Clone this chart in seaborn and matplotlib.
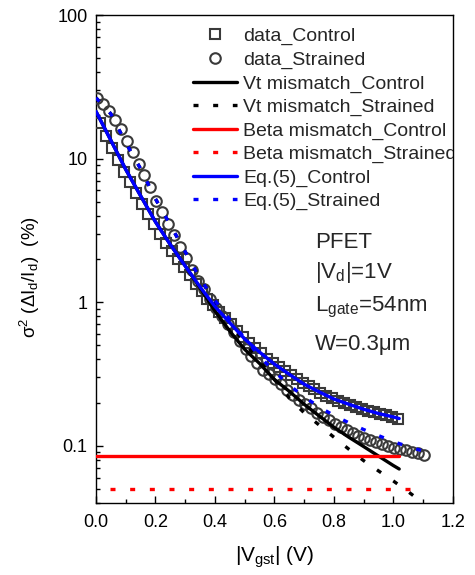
import numpy as np
import pandas as pd
import matplotlib
matplotlib.use("Agg")
import matplotlib.pyplot as plt
import seaborn as sns
from matplotlib.ticker import LogLocator, MultipleLocator, FixedLocator, FixedFormatter, NullFormatter

# ---------------- data ----------------
x_ctrl = [0.015, 0.035, 0.055, 0.075, 0.095, 0.115, 0.135, 0.155, 0.175, 0.195,
          0.215, 0.235, 0.255, 0.275, 0.295, 0.315, 0.335, 0.355, 0.375, 0.395,
          0.415, 0.435, 0.455, 0.475, 0.495, 0.515, 0.535, 0.555, 0.575, 0.595,
          0.615, 0.635, 0.655, 0.675, 0.695, 0.715, 0.735, 0.755, 0.775, 0.795,
          0.815, 0.835, 0.855, 0.875, 0.895, 0.915, 0.935, 0.955, 0.975, 0.995, 1.015]
data_ctrl = [17.6, 14.3, 11.8, 9.8, 8.1, 6.9, 5.75, 4.85, 4.1, 3.5,
             3.0, 2.6, 2.27, 2.0, 1.76, 1.54, 1.35, 1.2, 1.06, 0.95,
             0.86, 0.78, 0.70, 0.635, 0.57, 0.52, 0.48, 0.44, 0.405, 0.377,
             0.352, 0.33, 0.31, 0.292, 0.275, 0.26, 0.247, 0.235, 0.224, 0.214,
             0.206, 0.199, 0.192, 0.186, 0.181, 0.176, 0.171, 0.167, 0.163, 0.159, 0.155]

x_str = [0.003, 0.023, 0.043, 0.063, 0.083, 0.103, 0.123, 0.143, 0.163, 0.183,
         0.203, 0.223, 0.243, 0.263, 0.283, 0.303, 0.323, 0.343, 0.363, 0.383,
         0.403, 0.423, 0.443, 0.463, 0.483, 0.503, 0.523, 0.543, 0.563, 0.583,
         0.603, 0.623, 0.643, 0.663, 0.683, 0.703, 0.723, 0.743, 0.763, 0.783,
         0.803, 0.823, 0.843, 0.863, 0.883, 0.903, 0.923, 0.943, 0.963, 0.983,
         1.003, 1.023, 1.043, 1.063, 1.083, 1.103]
data_str = [26.4, 24.1, 21.5, 18.7, 16.1, 13.3, 11.2, 9.2, 7.7, 6.3,
            5.1, 4.24, 3.52, 2.93, 2.44, 2.02, 1.68, 1.41, 1.23, 1.05,
            0.91, 0.80, 0.71, 0.62, 0.54, 0.475, 0.42, 0.375, 0.34, 0.315,
            0.29, 0.268, 0.245, 0.226, 0.21, 0.195, 0.182, 0.17, 0.16, 0.151,
            0.143, 0.136, 0.129, 0.123, 0.118, 0.113, 0.109, 0.106, 0.103, 0.100,
            0.097, 0.095, 0.093, 0.091, 0.089, 0.087]

x_fit_ctrl = [0.0, 0.05, 0.1, 0.15, 0.2, 0.25, 0.3, 0.35, 0.4, 0.45, 0.5, 0.55,
              0.6, 0.65, 0.7, 0.75, 0.8, 0.85, 0.9, 0.95, 1.0, 1.02]
eq5_ctrl = [21.3, 13.4, 8.41, 5.51, 3.63, 2.52, 1.79, 1.28, 0.935, 0.72, 0.555, 0.45,
            0.371, 0.315, 0.269, 0.238, 0.212, 0.195, 0.180, 0.168, 0.159, 0.155]
vt_ctrl = [21.3, 13.4, 8.41, 5.51, 3.63, 2.52, 1.79, 1.26, 0.87, 0.63, 0.47, 0.375,
           0.29, 0.24, 0.195, 0.162, 0.135, 0.115, 0.099, 0.085, 0.073, 0.069]

x_fit_str = [0.0, 0.05, 0.1, 0.15, 0.2, 0.25, 0.3, 0.35, 0.4, 0.45, 0.5, 0.55,
             0.6, 0.65, 0.7, 0.75, 0.8, 0.85, 0.9, 0.95, 1.0, 1.05, 1.1]
eq5_str = [26.5, 20.5, 12.9, 8.5, 5.25, 3.45, 2.25, 1.46, 1.03, 0.76, 0.56, 0.42,
           0.33, 0.265, 0.22, 0.187, 0.163, 0.145, 0.13, 0.118, 0.107, 0.099, 0.092]
vt_str = [26.5, 20.5, 12.9, 8.5, 5.25, 3.45, 2.25, 1.46, 1.0, 0.72, 0.52, 0.39,
          0.29, 0.215, 0.17, 0.14, 0.115, 0.095, 0.079, 0.067, 0.057, 0.048, 0.040]

x_beta_ctrl = [0.0, 1.02]
beta_ctrl = [0.085, 0.085]
x_beta_str = [0.047, 1.1]
beta_str = [0.05, 0.05]

xticks = [0.0, 0.2, 0.4, 0.6, 0.8, 1.0, 1.2]
xticklabels = ["0.0", "0.2", "0.4", "0.6", "0.8", "1.0", "1.2"]
yticks = [0.1, 1, 10, 100]
yticklabels = ["0.1", "1", "10", "100"]

# ---------------- style ----------------
sns.set_style("ticks")
plt.rcParams["font.family"] = ["Liberation Sans", "DejaVu Sans"]
plt.rcParams["mathtext.default"] = "regular"
plt.rcParams["mathtext.fontset"] = "custom"
plt.rcParams["mathtext.rm"] = "Liberation Sans"
plt.rcParams["mathtext.it"] = "Liberation Sans"

fig = plt.figure(figsize=(4.75, 5.75), dpi=100)
ax = fig.add_axes([96 / 475, 1 - 503 / 575, 356.7 / 475, 488 / 575])

LW = 2.4
DOT = (0, (1.5, 4.4))
mcol = "#3a3a3a"

sns.lineplot(x=x_ctrl, y=data_ctrl, ax=ax, color=mcol, marker="s", linestyle="",
             mfc="none", mec=mcol, ms=7.0, mew=1.5, label="data_Control", zorder=3)
sns.lineplot(x=x_str, y=data_str, ax=ax, color=mcol, marker="o", linestyle="",
             mfc="none", mec=mcol, ms=7.6, mew=1.5, label="data_Strained", zorder=3)
sns.lineplot(x=x_fit_ctrl, y=vt_ctrl, ax=ax, color="black", lw=LW,
             label="Vt mismatch_Control", zorder=4)
sns.lineplot(x=x_fit_str, y=vt_str, ax=ax, color="black", lw=LW, linestyle=DOT,
             label="Vt mismatch_Strained", zorder=4)
sns.lineplot(x=x_beta_ctrl, y=beta_ctrl, ax=ax, color="#ff0000", lw=LW,
             label="Beta mismatch_Control", zorder=4)
sns.lineplot(x=x_beta_str, y=beta_str, ax=ax, color="#ff0000", lw=LW, linestyle=DOT,
             label="Beta mismatch_Strained", zorder=4)
sns.lineplot(x=x_fit_ctrl, y=eq5_ctrl, ax=ax, color="#0000ff", lw=LW,
             label="Eq.(5)_Control", zorder=5)
sns.lineplot(x=x_fit_str, y=eq5_str, ax=ax, color="#0000ff", lw=LW, linestyle=DOT,
             label="Eq.(5)_Strained", zorder=5)

ax.set_yscale("log")
ax.set_xlim(0, 1.2)
ax.set_ylim(0.04, 100)

ax.xaxis.set_major_locator(FixedLocator(xticks))
ax.xaxis.set_major_formatter(FixedFormatter(xticklabels))
ax.xaxis.set_minor_locator(MultipleLocator(0.1))
ax.yaxis.set_major_locator(FixedLocator(yticks))
ax.yaxis.set_major_formatter(FixedFormatter(yticklabels))
ax.yaxis.set_minor_locator(LogLocator(base=10, subs=np.arange(2, 10)))
ax.yaxis.set_minor_formatter(NullFormatter())

ax.tick_params(which="both", direction="in", top=False, right=False, width=1.0,
               color="black", labelsize=13, labelcolor="black")
ax.tick_params(axis="x", which="major", length=5, pad=8)
ax.tick_params(axis="y", which="major", length=5, pad=6)
ax.tick_params(which="minor", length=3)
for s in ax.spines.values():
    s.set_color("black")
    s.set_linewidth(1.0)

ax.set_xlabel("|V$_{gst}$| (V)", fontsize=15, labelpad=10, color="black")
ax.set_ylabel("σ$^2$ (ΔI$_d$/I$_d$)  (%)", fontsize=13.5, color="black")
ax.yaxis.set_label_coords(-0.15, 0.462)

handles, labels = ax.get_legend_handles_labels()
leg = ax.legend(handles, labels, loc="upper left", bbox_to_anchor=(0.272, 0.974),
                frameon=False, fontsize=14, handlelength=2.26, handletextpad=0.31,
                labelspacing=0.295, borderaxespad=0, borderpad=0)
for t in leg.get_texts():
    t.set_clip_box(ax.bbox)
    t.set_clip_on(True)

ann_kw = dict(transform=ax.transAxes, fontsize=16, va="baseline", ha="left")
ax.text(0.614, 0.5225, "PFET", **ann_kw)
ax.text(0.614, 0.461, "|V$_d$|=1V", **ann_kw)
ax.text(0.614, 0.392, "L$_{gate}$=54nm", **ann_kw)
ax.text(0.614, 0.3135, "W=0.3μm", **ann_kw)

fig.savefig("out.png", dpi=100)
